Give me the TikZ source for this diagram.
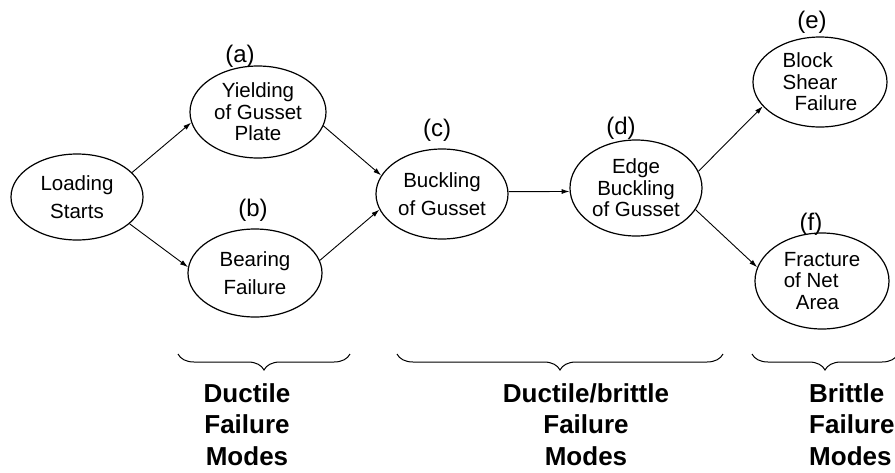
\documentclass[tikz,border=0pt]{standalone}
\usepackage{fontspec}
\setmainfont{Liberation Sans}
\usetikzlibrary{arrows.meta, decorations.pathreplacing, shapes.geometric}

\begin{document}
\begin{tikzpicture}[x=1pt,y=-1pt,
  mode/.style={ellipse,draw,line width=1.2pt,inner sep=0pt,minimum width=134pt,minimum height=90pt,align=center,font=\fontsize{20.5}{21.5}\selectfont},
  twoline/.style={font=\fontsize{20.5}{28}\selectfont},
  tag/.style={inner sep=0pt,font=\fontsize{24}{24}\selectfont},
  flow/.style={line width=0.9pt,-{Latex[length=8pt,width=5pt]}},
  groupbrace/.style={line width=1pt,decorate,decoration={brace,mirror,amplitude=16pt}},
  kind/.style={inner sep=0pt,anchor=north,align=center,font=\fontsize{26}{31.5}\selectfont\bfseries}]
  \useasboundingbox (0,0) rectangle (895,472);
  \node[mode,twoline,minimum width=132pt,minimum height=86pt] (start) at (77,197) {Loading\\Starts};
  \node[mode,minimum width=136pt,minimum height=92pt] (yield) at (258,112) {Yielding\\of Gusset\\Plate};
  \node[mode,twoline,minimum height=88pt] (bear) at (255,273) {Bearing\\Failure};
  \node[mode,twoline,minimum width=132pt] (buck) at (442,194) {Buckling\\of Gusset};
  \node[mode,minimum width=132pt,minimum height=96pt] (edge) at (636,188) {Edge\\Buckling\\of Gusset};
  \node[mode,align=left] (block) at (820,82) {Block\\Shear\\\hspace{12pt}Failure};
  \node[mode,minimum height=96pt,align=left] (frac) at (822,281) {Fracture\\of Net\\\hspace{12pt}Area};
  \node[tag] (ta) at (240,56) {(a)};
  \node[tag] (tb) at (253,210) {(b)};
  \node[tag] (tc) at (437,130) {(c)};
  \node[tag] (td) at (621,128) {(d)};
  \node[tag] (te) at (812,22) {(e)};
  \node[tag] (tf) at (811,224) {(f)};
  \draw[flow] (start.24) -- (yield.189);
  \draw[flow] (start.-27) -- (bear.175);
  \draw[flow] (yield.-12) -- (buck.163);
  \draw[flow] (bear.11) -- (buck.194);
  \draw[flow] (buck.2) -- (edge.183);
  \draw[flow] (edge.15) -- (block.203);
  \draw[flow] (edge.-20) -- (frac.168);
  \coordinate (b1l) at (178,354);
  \coordinate (b1r) at (350,354);
  \coordinate (b2l) at (397,354);
  \coordinate (b2r) at (723,354);
  \coordinate (b3l) at (752,354);
  \coordinate (b3r) at (898,354);
  \draw[groupbrace] (b1l) -- (b1r);
  \draw[groupbrace] (b2l) -- (b2r);
  \draw[groupbrace] (b3l) -- (b3r);
  \node[kind] (ductile) at (247,383) {Ductile\\Failure\\Modes};
  \node[kind] (mixed) at (586,383) {Ductile/brittle\\Failure\\Modes};
  \node[kind,anchor=north west,align=left] (brittle) at (809,383) {Brittle\\Failure\\Modes};
\end{tikzpicture}
\end{document}
